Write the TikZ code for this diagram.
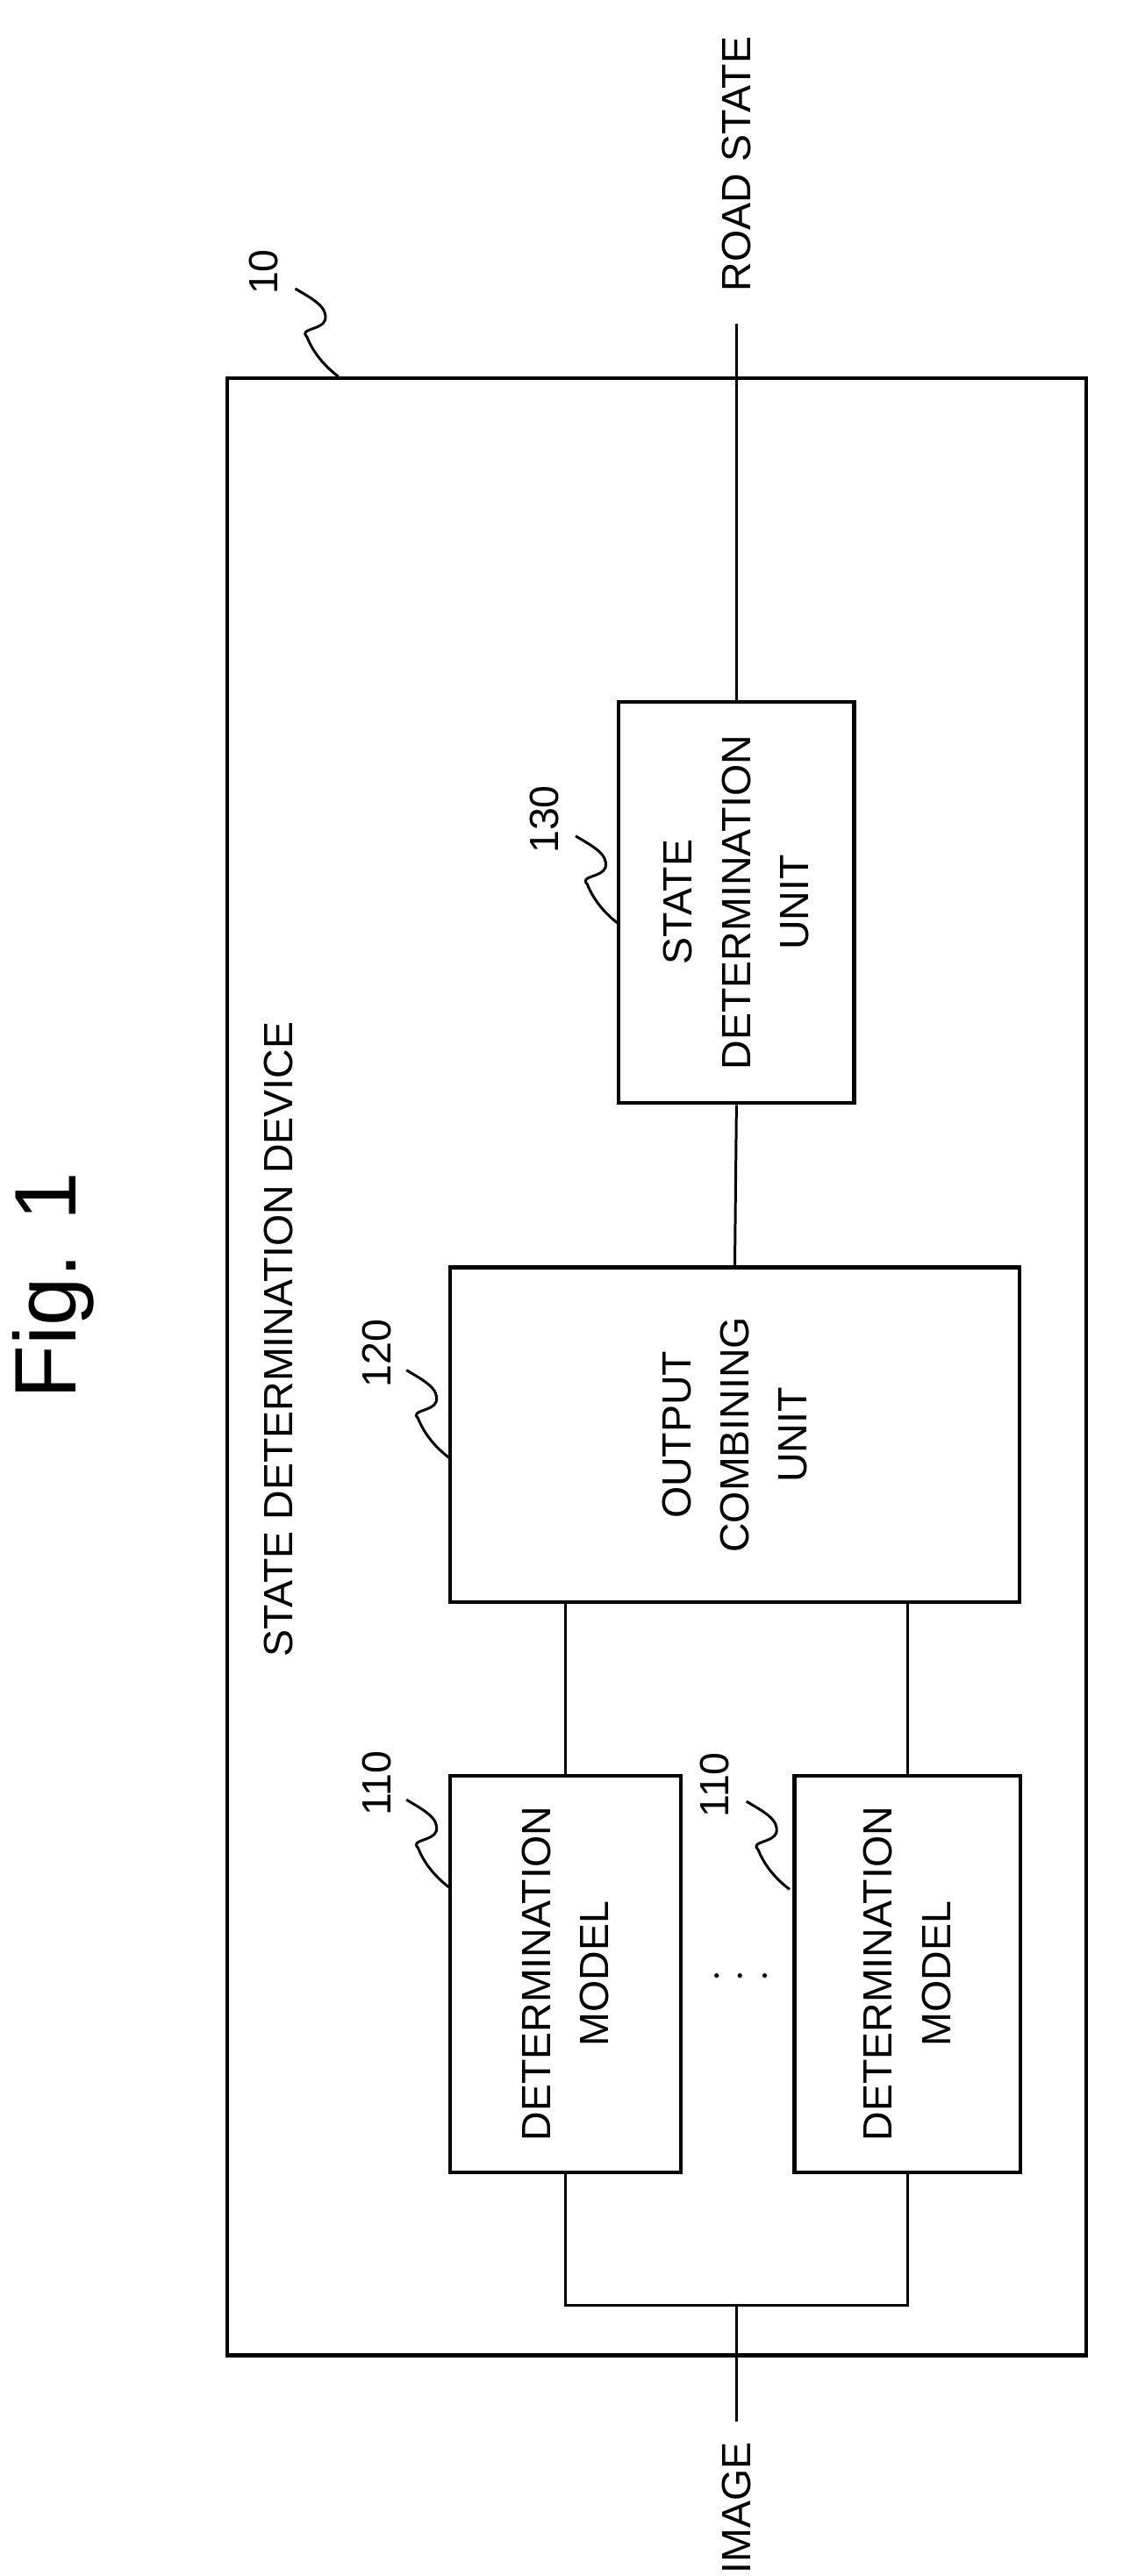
\documentclass[tikz,border=0pt]{standalone}
\usepackage{fontspec}
\setmainfont{Liberation Sans}
\begin{document}
\begin{tikzpicture}[x=0.02cm,y=-0.02cm,
  box/.style={draw,line width=1.3pt},
  lab/.style={font=\fontsize{14}{20}\selectfont,rotate=90,align=center},
  num/.style={font=\fontsize{14}{16}\selectfont,rotate=90},
  ln/.style={line width=0.9pt},
  sq/.style={line width=0.9pt}]
\useasboundingbox (0,0) rectangle (690,1553);
\def\squig#1{\draw[sq] (#1) .. controls +(10,6) and +(2,-8) .. ++(18,19) .. controls +(-2,6) and +(-5,-5) .. ++(-11,10) .. controls +(4,10) and +(-8,-6) .. ++(19,24);}
\node[rotate=90,font=\fontsize{30}{34}\selectfont] (fig) at (32,775) {Fig. 1};
\draw[box] (137,228) rectangle (655,1420);
\node[lab,anchor=west] (sdd) at (168,1005) {STATE DETERMINATION DEVICE};
\node[box,minimum width=142*0.02cm,minimum height=242*0.02cm,inner sep=0] (u130) at (444,544) {};
\node[lab] at (u130) {STATE\\DETERMINATION\\UNIT};
\node[box,minimum width=343*0.02cm,minimum height=202*0.02cm,inner sep=0] (u120) at (443,865) {};
\node[lab] at (u120) {OUTPUT\\COMBINING\\UNIT};
\node[box,minimum width=139*0.02cm,minimum height=239*0.02cm,inner sep=0] (m1) at (341,1190) {};
\node[lab] at (m1) {DETERMINATION\\MODEL};
\node[box,minimum width=136*0.02cm,minimum height=239*0.02cm,inner sep=0] (m2) at (547,1190) {};
\node[lab] at (m2) {DETERMINATION\\MODEL};
\fill (432,1191) circle (1.4) (446,1191) circle (1.4) (461,1191) circle (1.4);
\node[lab,anchor=west,inner sep=0] (road) at (444,176) {ROAD STATE};
\node[lab,anchor=east,inner sep=0] (img) at (444,1472) {IMAGE};
\coordinate (j) at (444,1390);
\draw[ln] (444,195) -- (u130.north);
\draw[ln] (u130.south) -- (u120.north);
\draw[ln] (u120.south -| m1.north) -- (m1.north);
\draw[ln] (u120.south -| m2.north) -- (m2.north);
\draw[ln] (m1.south) |- (j) -| (m2.south);
\draw[ln] (j) -- (444,1460);
% reference numerals
\node[num] (n10) at (159,164) {10};
\squig{178,174}
\node[num] (n130) at (328,494) {130};
\squig{347,504}
\node[num] (n120) at (227,816) {120};
\squig{245,826}
\node[num] (n110a) at (227,1075) {110};
\squig{245,1085}
\node[num] (n110b) at (431,1076) {110};
\squig{450,1086}
\end{tikzpicture}
\end{document}
